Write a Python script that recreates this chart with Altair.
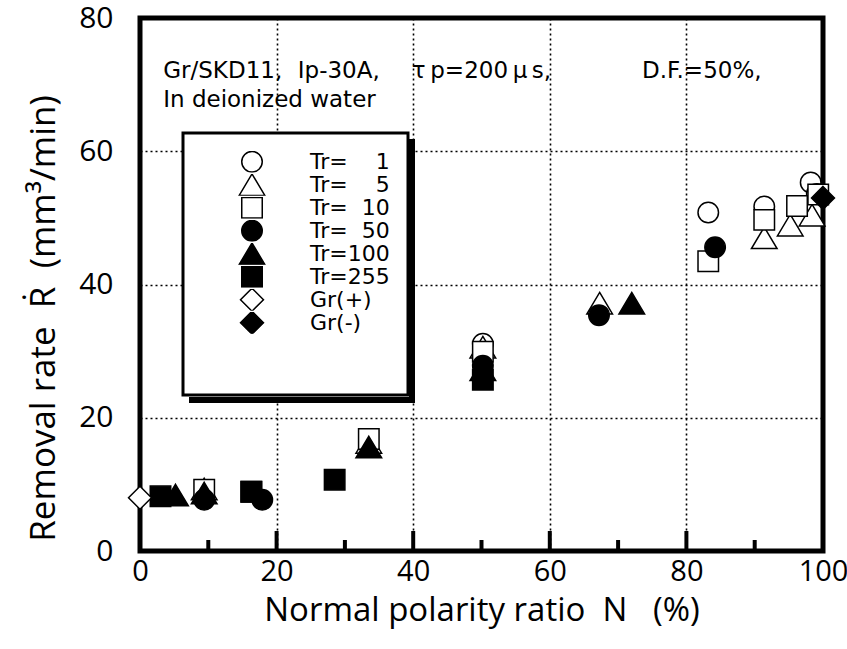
import altair as alt
import pandas as pd

FS = "\u2007"  # figure space for aligned legend labels
NB = "\u00a0"

SERIES = [
    "Tr=" + FS * 2 + "1",
    "Tr=" + FS * 2 + "5",
    "Tr=" + FS + "10",
    "Tr=" + FS + "50",
    "Tr=100",
    "Tr=255",
    "Gr(+)",
    "Gr(-)",
]
TRI = "M0,-1.05L1.25,1.05L-1.25,1.05Z"
DIA = "M0,-1.12L1.12,0L0,1.12L-1.12,0Z"
SHAPES = ["circle", TRI, "square", "circle", TRI, "square", DIA, DIA]
FILLS = ["white", "white", "white", "black", "black", "black", "white", "black"]
STROKES = ["black"] * 8

# Normal polarity ratio N (%) and removal rate R (mm3/min) per series
TR1_N = [50.2, 83.2, 91.4, 98.2, 99.1]
TR1_R = [31.1, 50.8, 51.7, 55.3, 53.6]
TR5_N = [9.4, 33.5, 50.2, 67.3, 91.4, 95.2, 98.4]
TR5_R = [9.3, 16.3, 30.6, 37.2, 47.0, 48.9, 50.4]
TR10_N = [9.4, 16.3, 33.5, 50.2, 83.2, 91.4, 96.2, 99.3]
TR10_R = [9.2, 8.9, 16.8, 29.9, 43.5, 49.7, 51.8, 53.5]
TR50_N = [9.4, 17.9, 50.2, 67.2, 84.2]
TR50_R = [7.7, 7.7, 27.8, 35.4, 45.6]
TR100_N = [5.2, 9.4, 33.5, 50.2, 72.0]
TR100_R = [8.4, 8.7, 15.6, 27.2, 37.2]
TR255_N = [3.0, 16.3, 28.5, 50.2]
TR255_R = [8.2, 8.9, 10.7, 25.7]
GRP_N = [0.0]
GRP_R = [8.0]
GRM_N = [100.0]
GRM_R = [53.0]

ALL_N = [TR1_N, TR5_N, TR10_N, TR50_N, TR100_N, TR255_N, GRP_N, GRM_N]
ALL_R = [TR1_R, TR5_R, TR10_R, TR50_R, TR100_R, TR255_R, GRP_R, GRM_R]

X_LABELS = [0, 20, 40, 60, 80, 100]
Y_LABELS = [0, 20, 40, 60, 80]
X_MAJOR = [20, 40, 60, 80]
X_MINOR = [10, 30, 50, 70, 90]

ANNOT_TEXT = [
    "Gr/SKD11,",
    "Ip-30A,",
    "\u03c4\u2009p=200\u2009\u03bc\u2009s,",
    "D.F.=50%,",
    "In deionized water",
]
ANNOT_N = [3.4, 23.1, 39.8, 73.5, 3.4]
ANNOT_R = [71.0, 71.0, 71.0, 71.0, 66.6]

FONT = "Open Sans"
TFONT = "DejaVu Sans"
W, H = 683, 533

rows = []
for s, ns, rs in zip(SERIES, ALL_N, ALL_R):
    for n, r in zip(ns, rs):
        rows.append({"N": n, "R": r, "series": s})
df = pd.DataFrame(rows)
df["order"] = df["series"].map({s: i for i, s in enumerate(SERIES)})

xscale = alt.Scale(domain=[0, 100], nice=False, zero=False)
yscale = alt.Scale(domain=[0, 80], nice=False, zero=False)

xaxis = alt.Axis(
    values=X_LABELS, grid=True, gridDash=[2, 3], gridColor="black", gridWidth=1.6,
    gridOpacity=1, ticks=False, domain=False, labelFontSize=29, labelPadding=6,
    labelFlush=False, labelFont=FONT, titleFont=FONT, titleFontSize=33,
    titleFontWeight="normal", titleBaseline="alphabetic", titleY=69,
    labelColor="black", titleColor="black",
)
yaxis = alt.Axis(
    values=Y_LABELS, grid=True, gridDash=[2, 3], gridColor="black", gridWidth=1.6,
    gridOpacity=1, ticks=False, domain=False, labelFontSize=30, labelPadding=27,
    labelFlush=False, labelFont=FONT, titleFont=FONT, titleFontSize=35,
    titleFontWeight="normal", titleX=-97, titleY=300, titleBaseline="middle",
    labelColor="black", titleColor="black",
)

legend = alt.Legend(
    orient="none", legendX=43, legendY=115, title=NB, titleOrient="bottom",
    titleFontSize=20, titlePadding=23, padding=18, fillColor="white",
    strokeColor="black", labelFont=TFONT, labelFontSize=22,
    labelColor="black", symbolOffset=40, labelOffset=47, rowPadding=0,
    clipHeight=21.4, symbolStrokeColor="black", symbolStrokeWidth=1.5,
    symbolOpacity=1, symbolSize=420,
)

shadow_v = alt.Chart(pd.DataFrame({"k": [0]})).mark_rule(color="black", strokeWidth=6).encode(
    x=alt.value(272), y=alt.value(121), y2=alt.value(385)
)
shadow_h = alt.Chart(pd.DataFrame({"k": [0]})).mark_rule(color="black", strokeWidth=6).encode(
    y=alt.value(382), x=alt.value(49), x2=alt.value(275)
)

points = alt.Chart(df).mark_point(filled=True, strokeWidth=1.5, opacity=1, size=420).encode(
    x=alt.X("N:Q", scale=xscale, axis=xaxis, title="Normal polarity ratio" + NB * 2 + "N" + NB * 3 + "(%)"),
    y=alt.Y("R:Q", scale=yscale, axis=yaxis, title="Removal rate" + NB * 2 + "\u1e58" + NB * 2 + "(mm\u00b3/min)"),
    shape=alt.Shape("series:N", scale=alt.Scale(domain=SERIES, range=SHAPES), legend=legend),
    fill=alt.Fill("series:N", scale=alt.Scale(domain=SERIES, range=FILLS), legend=legend),
    stroke=alt.Stroke("series:N", scale=alt.Scale(domain=SERIES, range=STROKES), legend=legend),
    order=alt.Order("order:Q"),
)

major = alt.Chart(pd.DataFrame({"t": X_MAJOR})).mark_rule(color="black", strokeWidth=4).encode(
    x=alt.X("t:Q", scale=xscale), y=alt.value(H), y2=alt.value(H - 20)
)
minor = alt.Chart(pd.DataFrame({"t": X_MINOR})).mark_rule(color="black", strokeWidth=4).encode(
    x=alt.X("t:Q", scale=xscale), y=alt.value(H), y2=alt.value(H - 11)
)

annot = alt.Chart(pd.DataFrame({"N": ANNOT_N, "R": ANNOT_R, "txt": ANNOT_TEXT})).mark_text(
    align="left", baseline="alphabetic", font=TFONT, fontSize=23, color="black"
).encode(x=alt.X("N:Q", scale=xscale), y=alt.Y("R:Q", scale=yscale), text="txt:N")

chart = alt.layer(shadow_v, shadow_h, points, major, minor, annot).properties(
    width=W, height=H,
    padding={"left": 140, "top": 18, "right": 24, "bottom": 98},
    autosize=alt.AutoSizeParams(type="none"),
    background="white",
).configure_view(stroke="black", strokeWidth=5).configure_legend(
    strokeWidth=3
)

chart.save("out.html", embed_options={"renderer": "svg", "actions": False})
